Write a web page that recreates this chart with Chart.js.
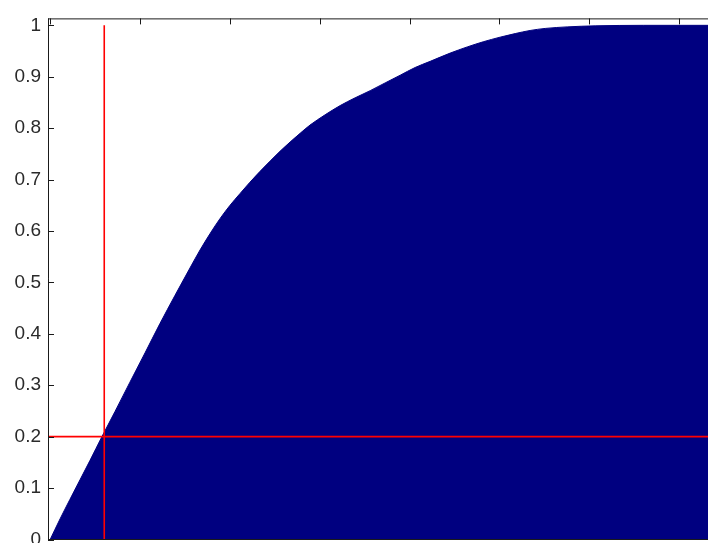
<!DOCTYPE html>
<html>
<head>
<meta charset="utf-8">
<script src="https://cdn.jsdelivr.net/npm/chart.js@4"></script>
<style>
  html, body { margin: 0; padding: 0; background: #fff; overflow: hidden; }
  #wrap { width: 760px; height: 560px; }
</style>
</head>
<body>
<div id="wrap"><canvas id="cdfChart"></canvas></div>
<script>
// cumulative curve
const xValues = [0, 5.5, 11.0, 16.6, 22.2, 28.8, 36.1, 44.4, 52.8, 61.1, 69.5, 77.8, 83.4, 89.0,
  94.5, 100.1, 105.7, 111.2, 116.8, 122.4, 127.9, 133.5, 139.1, 144.6, 153.0, 161.4, 169.7,
  178.1, 186.4, 194.8, 203.1, 211.5, 222.6, 232.1, 241.0, 250.4, 258.8, 267.1, 275.5, 287.7,
  303.3, 330.1, 385];
const cdfValues = [0, 0.040, 0.078, 0.116, 0.154, 0.200, 0.249, 0.306, 0.363, 0.420, 0.475, 0.528, 0.563, 0.595,
  0.624, 0.650, 0.673, 0.695, 0.716, 0.736, 0.755, 0.773, 0.790, 0.806, 0.826, 0.844, 0.859,
  0.873, 0.888, 0.903, 0.918, 0.930, 0.946, 0.958, 0.968, 0.977, 0.984, 0.990, 0.994, 0.997,
  0.999, 1.0, 1.0];

const yTicks = [0, 0.1, 0.2, 0.3, 0.4, 0.5, 0.6, 0.7, 0.8, 0.9, 1];
const xTicks = [0, 50, 100, 150, 200, 250, 300, 350];

// red marker lines
const markX = 30.1;
const markY = 0.2;

const xMin = -1.2, xMax = 385;
const yMin = 0, yMax = 1.0135;

const cdfPoints = xValues.map((x, i) => ({ x: x, y: cdfValues[i] }));

// MATLAB style box with ticks pointing inwards
const boxPlugin = {
  id: 'box',
  afterDatasetsDraw(chart) {
    const ctx = chart.ctx;
    const a = chart.chartArea;
    const xs = chart.scales.x, ys = chart.scales.y;
    ctx.save();
    ctx.strokeStyle = '#1a1a1a';
    ctx.lineWidth = 1;
    ctx.beginPath();
    ctx.moveTo(a.left, a.top + 0.5);
    ctx.lineTo(a.right, a.top + 0.5);
    ctx.moveTo(a.left, a.bottom);
    ctx.lineTo(a.right, a.bottom);
    ctx.moveTo(a.left + 0.5, a.top);
    ctx.lineTo(a.left + 0.5, a.bottom);
    xTicks.forEach(v => {
      const px = Math.round(xs.getPixelForValue(v)) + 0.5;
      ctx.moveTo(px, a.top);
      ctx.lineTo(px, a.top + 6);
    });
    yTicks.forEach(v => {
      const py = Math.round(ys.getPixelForValue(v)) + 0.5;
      ctx.moveTo(a.left, py);
      ctx.lineTo(a.left + 6, py);
    });
    ctx.stroke();
    ctx.restore();
  }
};

new Chart(document.getElementById('cdfChart'), {
  type: 'line',
  data: {
    datasets: [
      {
        data: [{ x: markX, y: 0 }, { x: markX, y: 1 }],
        borderColor: '#ff0000',
        borderWidth: 1.6,
        pointRadius: 0,
        fill: false
      },
      {
        data: [{ x: xMin, y: markY }, { x: xMax, y: markY }],
        borderColor: '#ff0000',
        borderWidth: 1.6,
        pointRadius: 0,
        fill: false
      },
      {
        data: cdfPoints,
        borderColor: '#000080',
        backgroundColor: '#000080',
        borderWidth: 1,
        pointRadius: 0,
        cubicInterpolationMode: 'monotone',
        fill: 'origin'
      }
    ]
  },
  options: {
    responsive: true,
    maintainAspectRatio: false,
    animation: false,
    layout: { padding: { top: 15, right: 18, bottom: 20.5, left: 0 } },
    plugins: { legend: { display: false }, tooltip: { enabled: false } },
    scales: {
      x: {
        type: 'linear',
        min: xMin,
        max: xMax,
        display: false
      },
      y: {
        type: 'linear',
        min: yMin,
        max: yMax,
        afterBuildTicks: s => { s.ticks = yTicks.map(v => ({ value: v })); },
        afterFit: s => { s.width = 48; },
        grid: { display: false, drawTicks: false },
        border: { display: false },
        ticks: {
          padding: 7,
          color: '#2a2a2a',
          font: { family: 'Liberation Sans', size: 19 },
          callback: v => String(v)
        }
      }
    }
  },
  plugins: [boxPlugin]
});
</script>
</body>
</html>
